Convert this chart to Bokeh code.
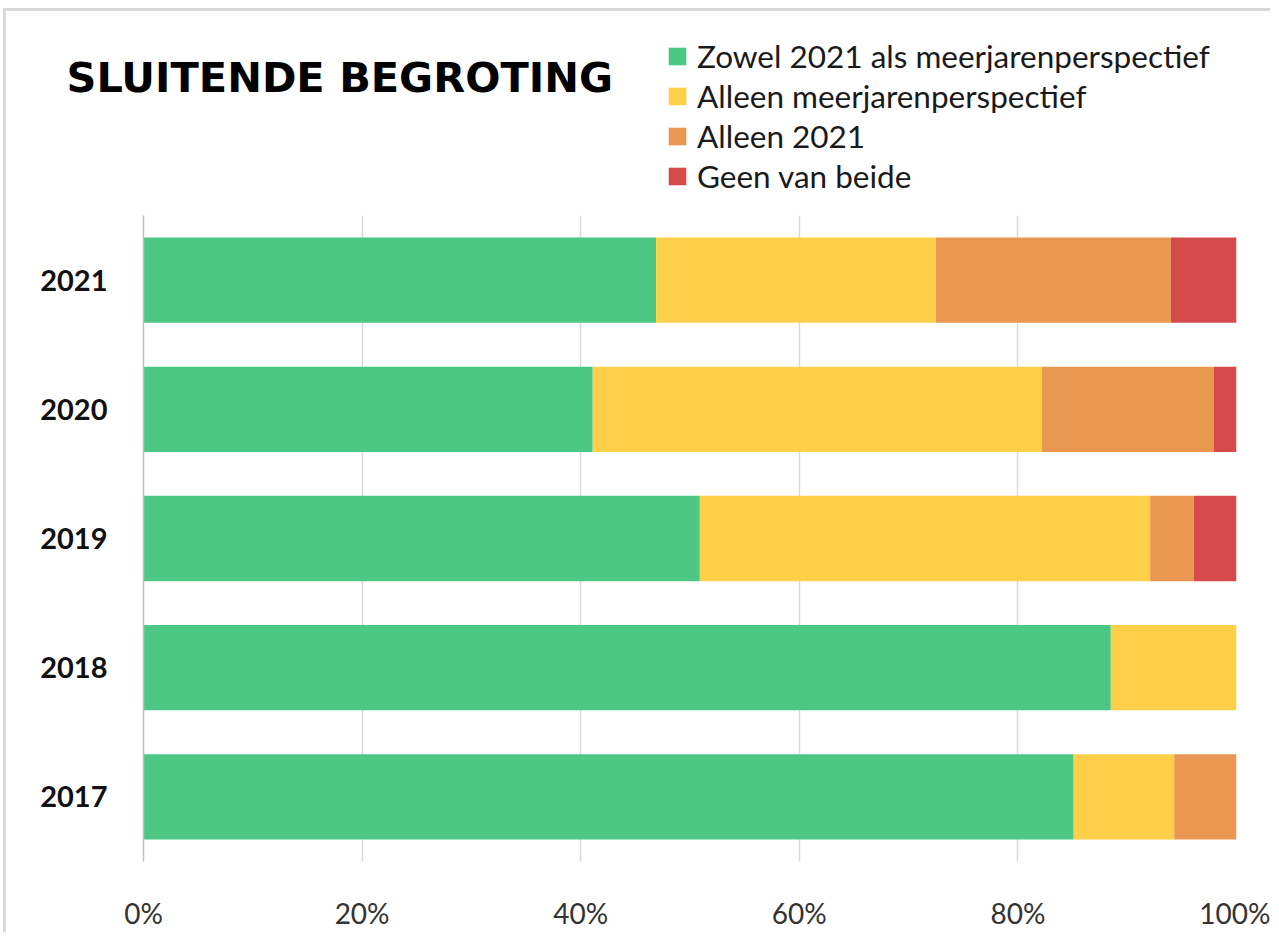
from bokeh.plotting import figure
from bokeh.layouts import column
from bokeh.models import (ColumnDataSource, Legend, LegendItem, Label, FactorRange,
                          Range1d, FixedTicker)
from bokeh.embed import file_html
from bokeh.resources import INLINE

years = ["2017", "2018", "2019", "2020", "2021"]
zowel = [85.1, 88.5, 50.9, 41.1, 46.9]
alleen_mjp = [9.2, 11.5, 41.2, 41.1, 25.6]
alleen_2021 = [5.7, 0.0, 4.0, 15.7, 21.5]
geen = [0.0, 0.0, 3.9, 2.1, 6.0]

series_keys = ["zowel", "alleen_mjp", "alleen_2021", "geen"]
series_names = ["Zowel 2021 als meerjarenperspectief", "Alleen meerjarenperspectief",
                "Alleen 2021", "Geen van beide"]
colors = ["#4DC784", "#FED049", "#EA9752", "#D54B4B"]
x_ticks = [0, 20, 40, 60, 80, 100]
x_tick_labels = ["0%", "20%", "40%", "60%", "80%", "100%"]
title_text = "SLUITENDE BEGROTING"

W = 1264
HEADER_H = 196

# ---------- header: title + legend ----------
h = figure(width=W, height=HEADER_H, output_backend="svg", toolbar_location=None,
           x_range=Range1d(0, W), y_range=Range1d(0, HEADER_H),
           min_border=0, outline_line_color=None)
h.frame_align = False
h.axis.visible = False
h.grid.grid_line_color = None

# zero-size proxies, only used to draw the legend swatches
legend_renderers = [h.hbar(y=[0], left=[0], right=[0], height=0, color=c, line_color=None)
                    for c in colors]
legend = Legend(items=[LegendItem(label=n, renderers=[r]) for n, r in zip(series_names, legend_renderers)],
                location=(660, 12))
legend.border_line_color = None
legend.background_fill_alpha = 0
legend.padding = 0
legend.margin = 0
legend.glyph_width = 22
legend.glyph_height = 22
legend.label_height = 37
legend.spacing = 2
legend.label_standoff = 9
legend.label_text_font = "Lato"
legend.label_text_font_size = "31.5px"
legend.label_text_color = "#1A1A1A"
h.add_layout(legend, "center")

h.add_layout(Label(x=60, y=130, text=title_text, text_font="DejaVu Sans",
                   text_font_style="bold", text_font_size="41.5px",
                   text_baseline="middle", text_color="#000000"))

# ---------- main chart ----------
source = ColumnDataSource(dict(year=years, zowel=zowel, alleen_mjp=alleen_mjp,
                               alleen_2021=alleen_2021, geen=geen))

p = figure(width=W, height=725, output_backend="svg", toolbar_location=None,
           y_range=FactorRange(*years), x_range=Range1d(0, 100),
           min_border_left=137, min_border_right=34, min_border_top=8,
           min_border_bottom=62)
p.frame_align = False
p.outline_line_color = None

p.hbar_stack(series_keys, y="year", height=0.66, color=colors,
             source=source, line_color=None)

p.xaxis.ticker = FixedTicker(ticks=x_ticks)
p.xaxis.major_label_overrides = {t: l for t, l in zip(x_ticks, x_tick_labels)}
p.xaxis.axis_line_color = None
p.xaxis.major_tick_line_color = None
p.xaxis.minor_tick_line_color = None
p.xaxis.major_label_text_font = "Lato"
p.xaxis.major_label_text_font_size = "28px"
p.xaxis.major_label_text_color = "#333333"
p.xaxis.major_label_standoff = 28

p.yaxis.axis_line_color = "#BFBFBF"
p.yaxis.axis_line_width = 1.5
p.yaxis.major_tick_line_color = None
p.yaxis.minor_tick_line_color = None
p.yaxis.major_label_text_font = "Lato"
p.yaxis.major_label_text_font_style = "bold"
p.yaxis.major_label_text_font_size = "29px"
p.yaxis.major_label_text_color = "#111111"
p.yaxis.major_label_standoff = 30

p.xgrid.grid_line_color = "#D9D9D9"
p.xgrid.grid_line_width = 1.5
p.ygrid.grid_line_color = None

layout = column(h, p, spacing=0,
                styles={"border-left": "3px solid #D9D9D9", "border-top": "3px solid #D9D9D9",
                        "margin-left": "3px", "margin-top": "8px"})

open("out.html", "w").write(file_html(layout, INLINE))
